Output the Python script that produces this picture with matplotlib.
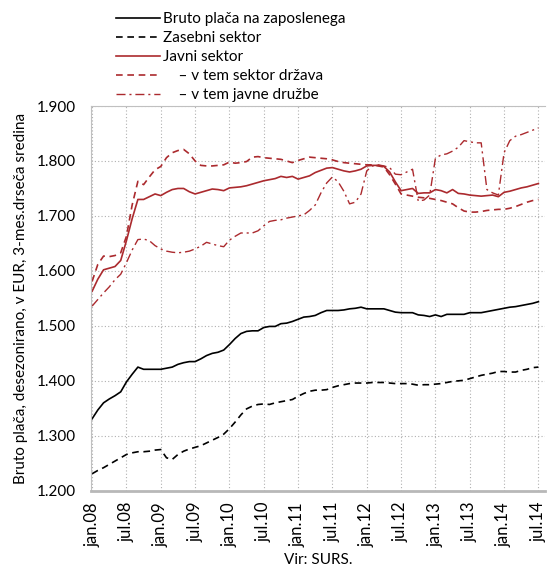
import matplotlib
matplotlib.use("Agg")
import matplotlib.pyplot as plt
from matplotlib.ticker import FuncFormatter, MultipleLocator

plt.rcParams['font.family'] = ['Lato', 'DejaVu Sans']

# monthly data jan.08 .. jul.14 (79 months)
bruto = [1331, 1347, 1360, 1367, 1373, 1380, 1398, 1412, 1425, 1421, 1421, 1421,
         1421, 1423, 1425, 1430, 1433, 1435, 1435, 1440, 1446, 1450, 1452, 1456,
         1466, 1477, 1486, 1490, 1491, 1491, 1497, 1499, 1499, 1504, 1505, 1508,
         1512, 1516, 1517, 1519, 1524, 1528, 1528, 1528, 1529, 1531, 1532, 1534,
         1531, 1531, 1531, 1531, 1528, 1525, 1524, 1524, 1524, 1520, 1519, 1517,
         1520, 1517, 1521, 1521, 1521, 1521, 1524, 1524, 1524, 1526, 1528, 1530,
         1532, 1534, 1535, 1537, 1539, 1541, 1544]
zasebni = [1231, 1237, 1242, 1248, 1254, 1260, 1266, 1269, 1271, 1271, 1272, 1274,
           1275, 1260, 1257, 1266, 1272, 1276, 1279, 1282, 1287, 1292, 1297, 1303,
           1313, 1325, 1338, 1349, 1354, 1357, 1358, 1357, 1360, 1362, 1364, 1366,
           1372, 1377, 1381, 1383, 1383, 1384, 1388, 1391, 1393, 1395, 1396, 1396,
           1396, 1397, 1397, 1397, 1396, 1395, 1395, 1395, 1394, 1392, 1393, 1393,
           1394, 1395, 1397, 1399, 1400, 1401, 1404, 1407, 1410, 1412, 1414, 1417,
           1417, 1416, 1416, 1419, 1421, 1424, 1425]
javni = [1563, 1585, 1602, 1605, 1608, 1619, 1655, 1695, 1730, 1730, 1735, 1740,
         1737, 1743, 1748, 1750, 1750, 1744, 1740, 1743, 1746, 1749, 1748, 1746,
         1751, 1752, 1753, 1755, 1758, 1761, 1764, 1766, 1768, 1772, 1770, 1772,
         1767, 1770, 1773, 1779, 1783, 1787, 1788, 1785, 1782, 1780, 1782, 1785,
         1791, 1792, 1792, 1790, 1780, 1762, 1746, 1748, 1750, 1741, 1742, 1742,
         1748, 1746, 1742, 1748, 1741, 1740, 1738, 1737, 1736, 1737, 1738, 1735,
         1743, 1745, 1748, 1751, 1753, 1756, 1759]
drzava = [1581, 1612, 1627, 1626, 1628, 1633, 1663, 1720, 1763, 1757, 1771, 1784,
          1790, 1806, 1815, 1819, 1821, 1813, 1800, 1792, 1791, 1791, 1792, 1793,
          1798, 1796, 1797, 1799, 1807, 1808, 1806, 1805, 1804, 1803, 1800, 1797,
          1801, 1804, 1807, 1806, 1805, 1804, 1802, 1799, 1797, 1796, 1795, 1794,
          1793, 1793, 1791, 1789, 1775, 1758, 1740, 1738, 1736, 1734, 1733, 1732,
          1730, 1728, 1725, 1722, 1715, 1709, 1707, 1707, 1708, 1710, 1711, 1712,
          1712, 1714, 1717, 1721, 1725, 1728, 1730]
javne_druzbe = [1536, 1548, 1560, 1571, 1584, 1594, 1615, 1638, 1657, 1658, 1655, 1646,
                1640, 1636, 1634, 1633, 1634, 1636, 1640, 1645, 1652, 1649, 1646, 1644,
                1656, 1663, 1669, 1669, 1669, 1673, 1682, 1690, 1692, 1693, 1696, 1698,
                1700, 1702, 1710, 1720, 1742, 1760, 1771, 1762, 1745, 1722, 1725, 1740,
                1782, 1791, 1793, 1791, 1788, 1776, 1775, 1780, 1785, 1727, 1729, 1738,
                1805, 1811, 1813, 1818, 1825, 1837, 1835, 1833, 1833, 1748, 1742, 1738,
                1815, 1837, 1845, 1848, 1852, 1856, 1860]

tick_labels = ['jan.08', 'jul.08', 'jan.09', 'jul.09', 'jan.10', 'jul.10', 'jan.11',
               'jul.11', 'jan.12', 'jul.12', 'jan.13', 'jul.13', 'jan.14', 'jul.14']

labels = ['Bruto plača na zaposlenega', 'Zasebni sektor', 'Javni sektor',
          '    – v tem sektor država', '    – v tem javne družbe']

RED = '#ab2a2e'
months = list(range(len(bruto)))

fig = plt.figure(figsize=(5.48, 5.70), dpi=100)
ax = fig.add_axes([0.166, 0.139, 0.829, 0.675])

l1, = ax.plot(months, bruto, color='black', lw=1.2)
l2, = ax.plot(months, zasebni, color='black', lw=1.2, dashes=(4, 2.8))
l3, = ax.plot(months, javni, color=RED, lw=1.2)
l4, = ax.plot(months, drzava, color=RED, lw=1.2, dashes=(4, 2.8))
l5, = ax.plot(months, javne_druzbe, color=RED, lw=1.0, dashes=(6.5, 2.8, 1.5, 2.8))

ax.set_xlim(-0.2, 79.2)
ax.set_ylim(1200, 1900)
ax.set_xticks(range(0, 79, 6))
ax.set_xticklabels(tick_labels, rotation=90, fontsize=12)
ax.yaxis.set_major_locator(MultipleLocator(100))
ax.yaxis.set_major_formatter(FuncFormatter(lambda v, p: f'{int(v):,}'.replace(',', '.')))
ax.tick_params(axis='y', length=0, pad=11, labelsize=11)
ax.tick_params(axis='x', length=0, pad=8)
ax.grid(True, color='#b0b0b0', linestyle=(0, (1, 2)), lw=0.8)
for s in ['left', 'top', 'right']:
    ax.spines[s].set_color('#c0c0c0')
    ax.spines[s].set_linewidth(0.8)
ax.spines['right'].set_visible(False)
ax.spines['bottom'].set_color('#b8b8b8')
ax.spines['bottom'].set_linewidth(2.0)

ax.set_ylabel('Bruto plača, desezonirano, v EUR, 3-mes.drseča sredina', fontsize=11, labelpad=6)
ax.set_xlabel('Vir: SURS.', fontsize=11, labelpad=5)

fig.legend([l1, l2, l3, l4, l5], labels, loc='upper left',
           bbox_to_anchor=(0.195, 0.995), frameon=False, fontsize=11,
           handlelength=2.9, handletextpad=0.2, labelspacing=0.33,
           borderaxespad=0.2)

fig.savefig('out.png', dpi=100)
